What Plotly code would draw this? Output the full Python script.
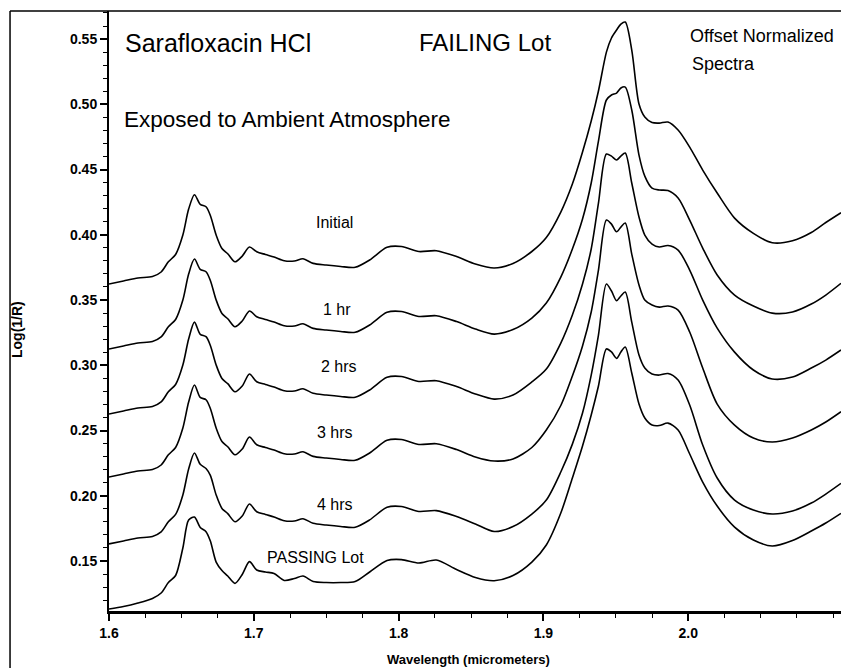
import plotly.graph_objects as go

wavelength = [1.600, 1.610, 1.620, 1.630, 1.636, 1.641, 1.646, 1.651, 1.655, 1.659,
              1.663, 1.667, 1.670, 1.674, 1.678, 1.682, 1.687, 1.692, 1.697, 1.702,
              1.708, 1.714, 1.721, 1.728, 1.734, 1.741, 1.750, 1.760, 1.770, 1.780,
              1.792, 1.802, 1.814, 1.826, 1.840, 1.853, 1.866, 1.879, 1.892, 1.902,
              1.912, 1.920, 1.927, 1.933, 1.938, 1.9435, 1.947, 1.9505, 1.9535, 1.9565,
              1.961, 1.966, 1.970, 1.975, 1.980, 1.986, 1.993, 2.001, 2.010, 2.020,
              2.032, 2.045, 2.058, 2.072, 2.085, 2.095, 2.1055]

initial = [0.3623, 0.3646, 0.3669, 0.3680, 0.3715, 0.3793, 0.3849, 0.3998, 0.4197, 0.4307,
           0.4233, 0.4215, 0.4148, 0.3998, 0.3895, 0.3855, 0.3793, 0.3837, 0.3906, 0.3870,
           0.3849, 0.3830, 0.3801, 0.3799, 0.3816, 0.3781, 0.3768, 0.3757, 0.3751, 0.3807,
           0.3904, 0.3910, 0.3872, 0.3878, 0.3833, 0.3776, 0.3745, 0.3780, 0.3872, 0.3979,
           0.4174, 0.4389, 0.4634, 0.4872, 0.5102, 0.5400, 0.5508, 0.5569, 0.5615, 0.5630,
           0.5416, 0.5002, 0.4902, 0.4860, 0.4856, 0.4864, 0.4803, 0.4672, 0.4496, 0.4320,
           0.4128, 0.4011, 0.3939, 0.3954, 0.4017, 0.4094, 0.4169]

hr1 = [0.3125, 0.3148, 0.3171, 0.3182, 0.3217, 0.3295, 0.3351, 0.3500, 0.3699, 0.3814,
       0.3735, 0.3717, 0.3650, 0.3500, 0.3397, 0.3357, 0.3295, 0.3339, 0.3416, 0.3372,
       0.3351, 0.3332, 0.3303, 0.3301, 0.3318, 0.3283, 0.3270, 0.3259, 0.3253, 0.3309,
       0.3406, 0.3412, 0.3374, 0.3380, 0.3335, 0.3278, 0.3239, 0.3274, 0.3362, 0.3477,
       0.3676, 0.3891, 0.4121, 0.4397, 0.4718, 0.5033, 0.5071, 0.5086, 0.5125, 0.5132,
       0.4956, 0.4611, 0.4450, 0.4358, 0.4343, 0.4339, 0.4282, 0.4113, 0.3898, 0.3692,
       0.3538, 0.3454, 0.3400, 0.3408, 0.3469, 0.3538, 0.3628]

hrs2 = [0.2627, 0.2650, 0.2673, 0.2684, 0.2719, 0.2797, 0.2853, 0.3002, 0.3201, 0.3331,
        0.3237, 0.3219, 0.3152, 0.3002, 0.2899, 0.2859, 0.2797, 0.2841, 0.2933, 0.2874,
        0.2853, 0.2834, 0.2805, 0.2803, 0.2820, 0.2785, 0.2772, 0.2761, 0.2755, 0.2811,
        0.2908, 0.2914, 0.2876, 0.2882, 0.2837, 0.2780, 0.2741, 0.2772, 0.2872, 0.2971,
        0.3170, 0.3385, 0.3623, 0.3891, 0.4243, 0.4619, 0.4603, 0.4573, 0.4603, 0.4626,
        0.4397, 0.4136, 0.3998, 0.3929, 0.3906, 0.3918, 0.3883, 0.3730, 0.3500, 0.3285,
        0.3101, 0.2964, 0.2895, 0.2910, 0.2979, 0.3040, 0.3117]

hrs3 = [0.2144, 0.2167, 0.2190, 0.2201, 0.2236, 0.2314, 0.2370, 0.2519, 0.2718, 0.2849,
        0.2754, 0.2736, 0.2669, 0.2519, 0.2416, 0.2376, 0.2314, 0.2358, 0.2450, 0.2391,
        0.2370, 0.2351, 0.2322, 0.2320, 0.2337, 0.2302, 0.2289, 0.2278, 0.2272, 0.2328,
        0.2425, 0.2431, 0.2393, 0.2399, 0.2354, 0.2297, 0.2266, 0.2282, 0.2370, 0.2504,
        0.2692, 0.2918, 0.3148, 0.3408, 0.3730, 0.4113, 0.4082, 0.4023, 0.4059, 0.4090,
        0.3852, 0.3615, 0.3500, 0.3462, 0.3446, 0.3454, 0.3423, 0.3255, 0.2979, 0.2703,
        0.2542, 0.2443, 0.2412, 0.2443, 0.2504, 0.2565, 0.2644]

hrs4 = [0.1631, 0.1654, 0.1677, 0.1688, 0.1723, 0.1801, 0.1857, 0.2006, 0.2205, 0.2328,
        0.2241, 0.2209, 0.2156, 0.2006, 0.1903, 0.1863, 0.1801, 0.1845, 0.1937, 0.1878,
        0.1857, 0.1838, 0.1809, 0.1807, 0.1824, 0.1789, 0.1776, 0.1765, 0.1759, 0.1815,
        0.1912, 0.1918, 0.1880, 0.1886, 0.1841, 0.1784, 0.1726, 0.1764, 0.1860, 0.1967,
        0.2182, 0.2396, 0.2634, 0.2925, 0.3232, 0.3623, 0.3569, 0.3495, 0.3531, 0.3561,
        0.3331, 0.3079, 0.2979, 0.2933, 0.2925, 0.2937, 0.2887, 0.2695, 0.2389, 0.2136,
        0.1967, 0.1891, 0.1860, 0.1883, 0.1944, 0.2013, 0.2095]

passing = [0.1132, 0.1151, 0.1178, 0.1213, 0.1255, 0.1335, 0.1389, 0.1600, 0.1814, 0.1837,
           0.1757, 0.1725, 0.1653, 0.1492, 0.1427, 0.1385, 0.1329, 0.1397, 0.1495, 0.1431,
           0.1416, 0.1404, 0.1351, 0.1366, 0.1385, 0.1343, 0.1335, 0.1335, 0.1343, 0.1416,
           0.1504, 0.1511, 0.1485, 0.1508, 0.1435, 0.1374, 0.1349, 0.1389, 0.1492, 0.1623,
           0.1868, 0.2136, 0.2381, 0.2619, 0.2841, 0.3125, 0.3102, 0.3053, 0.3102, 0.3140,
           0.2941, 0.2703, 0.2596, 0.2542, 0.2538, 0.2557, 0.2504, 0.2320, 0.2105, 0.1921,
           0.1760, 0.1661, 0.1615, 0.1657, 0.1730, 0.1791, 0.1865]

series = [("Initial", initial), ("1 hr", hr1), ("2 hrs", hrs2),
          ("3 hrs", hrs3), ("4 hrs", hrs4), ("PASSING Lot", passing)]

x_ticks = [1.6, 1.7, 1.8, 1.9, 2.0]
x_ticktext = ["1.6", "1.7", "1.8", "1.9", "2.0"]
y_ticks = [0.15, 0.20, 0.25, 0.30, 0.35, 0.40, 0.45, 0.50, 0.55]
y_ticktext = ["0.15", "0.20", "0.25", "0.30", "0.35", "0.40", "0.45", "0.50", "0.55"]

FONT = "Liberation Sans, Arial, sans-serif"

fig = go.Figure()
for name, vals in series:
    fig.add_trace(go.Scatter(x=wavelength, y=vals, mode="lines", name=name,
                             line=dict(color="black", width=1.6, shape="spline", smoothing=0.8),
                             showlegend=False, hoverinfo="skip"))

fig.update_layout(
    width=841, height=668,
    margin=dict(l=109, r=0, t=11, b=57),
    paper_bgcolor="white", plot_bgcolor="white",
    font=dict(family=FONT, color="black"),
    xaxis=dict(range=[1.6, 2.1055], showgrid=False, zeroline=False,
               tickvals=x_ticks, ticktext=x_ticktext, ticks="outside", ticklen=7,
               tickwidth=1.5, tickcolor="black",
               tickfont=dict(family=FONT, size=14, color="black", weight="bold"),
               showline=True, linecolor="black", linewidth=3,
               minor=dict(dtick=0.025, tick0=1.6, ticks="outside", ticklen=4,
                          tickwidth=1, tickcolor="black")),
    yaxis=dict(range=[0.1117, 0.5715], showgrid=False, zeroline=False,
               tickvals=y_ticks, ticktext=y_ticktext, ticks="outside", ticklen=7,
               tickwidth=1.5, tickcolor="black",
               tickfont=dict(family=FONT, size=14, color="black", weight="bold"),
               showline=True, linecolor="black", linewidth=2,
               minor=dict(dtick=0.01, tick0=0.0, ticks="outside", ticklen=4,
                          tickwidth=1, tickcolor="black")),
)

# outer frame (left and top border)
fig.add_shape(type="line", xref="paper", yref="paper", x0=-0.1352, x1=1.0, y0=1.0, y1=1.0,
              line=dict(color="black", width=1.5))
fig.add_shape(type="line", xref="paper", yref="paper", x0=-0.1352, x1=-0.1352, y0=1.0, y1=-0.1,
              line=dict(color="black", width=1.5))

def ann(text, x, y, size, xanchor="left", bold=False, angle=0):
    fig.add_annotation(text=text, x=x, y=y, xref="paper", yref="paper",
                       xanchor=xanchor, yanchor="middle", showarrow=False, textangle=angle,
                       font=dict(family=FONT, size=size, color="black",
                                 weight="bold" if bold else "normal"))

ann("Sarafloxacin HCl", 0.0191, 0.9467, 25)
ann("FAILING Lot", 0.4210, 0.9467, 24)
ann("Exposed to Ambient Atmosphere", 0.0178, 0.82, 22.5)
ann("Offset Normalized", 0.791, 0.9575, 18)
ann("Spectra", 0.7937, 0.9125, 18)

ann("Initial", 0.3074, 0.6467, 16, xanchor="center")
ann("1 hr", 0.3108, 0.5017, 16, xanchor="center")
ann("2 hrs", 0.3138, 0.4067, 16, xanchor="center")
ann("3 hrs", 0.3085, 0.2967, 16, xanchor="center")
ann("4 hrs", 0.3094, 0.1783, 16, xanchor="center")
ann("PASSING Lot", 0.2821, 0.09, 16, xanchor="center")

ann("Wavelength (micrometers)", 0.4914, -0.0808, 13, xanchor="center", bold=True)
ann("Log(1/R)", -0.1257, 0.47, 14, xanchor="center", bold=True, angle=-90)

fig.write_html("out.html")
